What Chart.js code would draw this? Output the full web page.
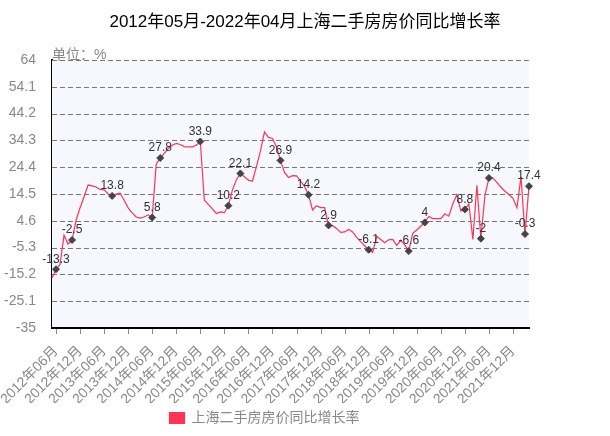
<!DOCTYPE html>
<html>
<head>
<meta charset="utf-8">
<script src="https://cdn.jsdelivr.net/npm/chart.js@4/dist/chart.umd.min.js"></script>
<style>
html, body { margin: 0; padding: 0; background: #fff; }
</style>
</head>
<body>
<canvas id="myChart" width="610" height="436"></canvas>
<script>
const titleText = '2012年05月-2022年04月上海二手房房价同比增长率';
const seriesName = '上海二手房房价同比增长率';
const unitText = '单位：%';

// monthly categories, 2012年05月 .. 2022年04月
const months = [];
for (let y = 2012; y <= 2022; y++) {
    for (let m = 1; m <= 12; m++) {
        if ((y === 2012 && m < 5) || (y === 2022 && m > 4)) continue;
        months.push(y + '年' + String(m).padStart(2, '0') + '月');
    }
}

// year-on-year growth, %
const growth = [
    -16.5, -13.3, -11.5, -0.7, -4.0, -2.5, 4.8, 9.4, 13.5, 17.8, 17.5, 17.1,
    16.2, 16.0, 14.5, 13.8, 14.5, 14.8, 12.2, 9.4, 7.5, 6.0, 5.6, 6.0,
    6.8, 5.8, 25.5, 27.8, 29.5, 31.3, 32.5, 33.2, 32.8, 32.0, 31.9, 31.9,
    32.5, 33.9, 12.2, 10.7, 9.0, 7.3, 7.9, 7.6, 10.2, 15.9, 19.8, 22.1,
    20.9, 19.6, 19.2, 24.6, 30.3, 37.4, 35.4, 35.0, 32.0, 26.9, 22.5, 20.6,
    21.3, 21.2, 19.3, 17.3, 14.2, 8.6, 10.2, 9.5, 9.5, 2.9, 2.8, 1.8,
    0.3, 0.5, 1.4, 0.5, -1.5, -3.1, -4.6, -6.1, -7.1, -1.1, -2.3, -3.5,
    -2.4, -2.3, -4.5, -2.6, -4.3, -6.6, 0.0, 1.2, 2.6, 4.0, 6.2, 5.4,
    5.4, 5.4, 7.2, 6.3, 10.9, 14.2, 8.2, 8.8, 10.8, -2.3, 17.7, -2.0,
    14.0, 20.4, 20.4, 18.8, 17.0, 15.5, 14.3, 12.9, 9.4, 20.9, -0.3, 17.4
];

// points that carry a marker and a value label
const markIdx = [1, 5, 15, 25, 27, 37, 44, 47, 57, 64, 69, 79, 89, 93, 103, 107, 109, 118, 119];

const yTicks = [64, 54.1, 44.2, 34.3, 24.4, 14.5, 4.6, -5.3, -15.2, -25.1, -35];

const FONT = '"Liberation Sans", "Noto Sans CJK SC", sans-serif';
Chart.defaults.font.family = FONT;

function isTick(i) {
    return /(06|12)月$/.test(months[i]);
}

const decor = {
    id: 'decor',
    beforeDatasetsDraw(chart) {
        const { ctx, chartArea: a } = chart;
        const ys = chart.scales.y;
        ctx.save();
        ctx.fillStyle = '#f7f8fe';
        ctx.fillRect(a.left, a.top, a.right - a.left, a.bottom - a.top);
        // dashed grid lines at the y ticks
        ctx.strokeStyle = '#777';
        ctx.lineWidth = 1;
        ctx.setLineDash([5, 3]);
        ctx.beginPath();
        yTicks.forEach(v => {
            if (v === ys.min) return;
            const py = Math.round(ys.getPixelForValue(v)) + 0.5;
            ctx.moveTo(a.left, py);
            ctx.lineTo(a.right, py);
        });
        ctx.stroke();
        ctx.restore();
    },
    afterDatasetsDraw(chart) {
        const ctx = chart.ctx;
        const pts = chart.getDatasetMeta(0).data;
        ctx.save();
        ctx.font = '12px ' + FONT;
        ctx.fillStyle = '#333';
        ctx.textAlign = 'center';
        ctx.textBaseline = 'bottom';
        markIdx.forEach(i => {
            ctx.fillText(String(growth[i]), pts[i].x, pts[i].y - 4);
        });
        ctx.restore();
    },
    afterDraw(chart) {
        const { ctx, chartArea: a } = chart;
        const xs = chart.scales.x;
        ctx.save();
        // x axis line
        ctx.strokeStyle = '#000';
        ctx.lineWidth = 2;
        ctx.beginPath();
        ctx.moveTo(a.left - 1, a.bottom);
        ctx.lineTo(a.right + 1, a.bottom);
        ctx.stroke();
        // tick marks under the labelled months
        ctx.strokeStyle = '#888';
        ctx.lineWidth = 1;
        months.forEach((m, i) => {
            if (!isTick(i)) return;
            const px = Math.round(xs.getPixelForValue(i)) + 0.5;
            ctx.beginPath();
            ctx.moveTo(px, a.bottom + 1);
            ctx.lineTo(px, a.bottom + 6);
            ctx.stroke();
        });
        ctx.font = '17px ' + FONT;
        ctx.fillStyle = '#000';
        ctx.textAlign = 'center';
        ctx.textBaseline = 'middle';
        ctx.fillText(titleText, chart.width / 2, 22);
        ctx.font = '14px ' + FONT;
        ctx.fillStyle = '#888';
        ctx.textAlign = 'left';
        ctx.fillText(unitText, a.left, a.top - 5);
        ctx.restore();
    }
};

const ctx = document.getElementById('myChart').getContext('2d');
const chart = new Chart(ctx, {
    type: 'line',
    data: {
        labels: months,
        datasets: [{
            label: seriesName,
            data: growth,
            borderColor: '#ff3355',
            backgroundColor: '#ff3355',
            borderWidth: 1.2,
            tension: 0,
            pointStyle: 'rectRot',
            pointRadius: c => markIdx.includes(c.dataIndex) ? 3.5 : 0,
            pointHoverRadius: 0,
            pointBackgroundColor: '#444',
            pointBorderColor: '#444',
            pointBorderWidth: 1
        }]
    },
    options: {
        responsive: false,
        animation: false,
        events: [],
        layout: { padding: { top: 60, right: 81, bottom: 1, left: 0 } },
        scales: {
            x: {
                grid: { display: false },
                border: { display: false },
                ticks: {
                    autoSkip: false,
                    minRotation: 45,
                    maxRotation: 45,
                    color: '#888',
                    font: { size: 14 },
                    padding: 7,
                    callback: (v, i) => isTick(i) ? months[i] : ''
                },
                afterFit: s => { s.height = 75; }
            },
            y: {
                min: -35,
                max: 64,
                afterBuildTicks: s => { s.ticks = yTicks.map(v => ({ value: v })); },
                afterFit: s => { s.width = 52; },
                grid: { display: false },
                border: { color: '#000', width: 2 },
                ticks: {
                    color: '#888',
                    font: { size: 14 },
                    padding: 8,
                    callback: v => String(v)
                }
            }
        },
        plugins: {
            title: { display: false },
            tooltip: { enabled: false },
            legend: {
                position: 'bottom',
                labels: {
                    boxWidth: 15,
                    boxHeight: 11,
                    padding: 8,
                    color: '#888',
                    font: { size: 14 }
                }
            }
        }
    },
    plugins: [decor]
});
</script>
</body>
</html>
